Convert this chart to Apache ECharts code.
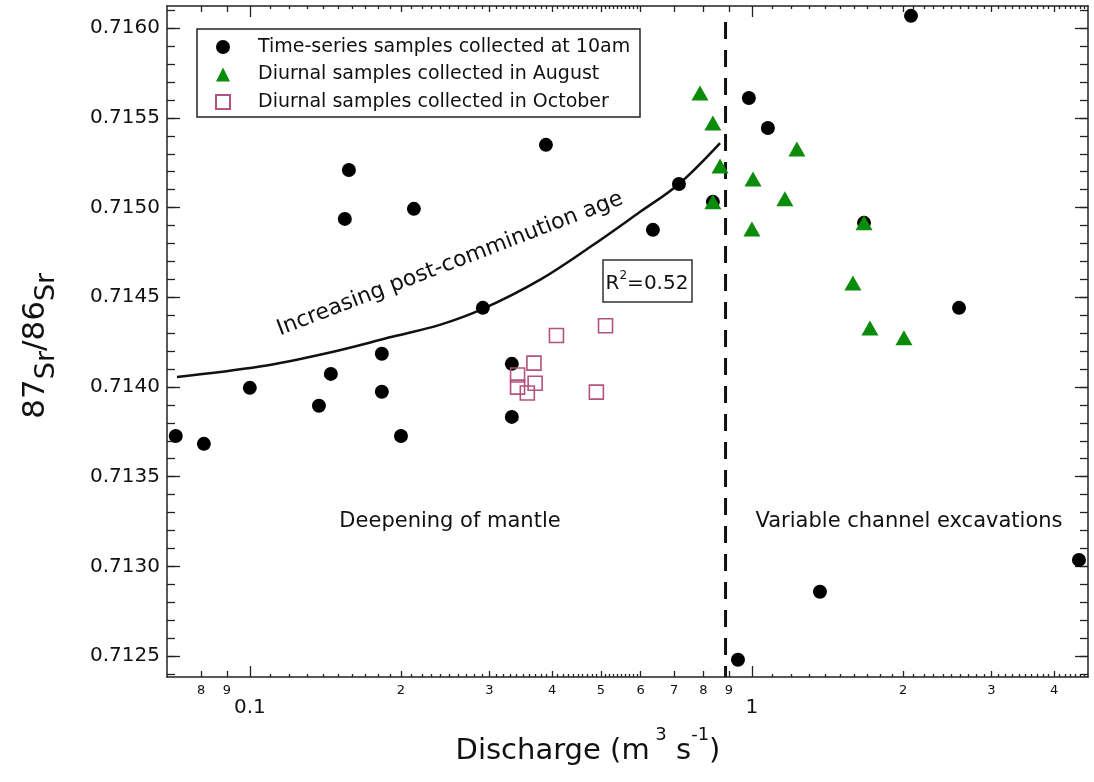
<!DOCTYPE html>
<html>
<head>
<meta charset="utf-8">
<script src="https://cdn.jsdelivr.net/npm/echarts@6/dist/echarts.min.js"></script>
<style>
  html, body { margin: 0; padding: 0; background: #fff; }
  #chart { width: 1094px; height: 782px; }
</style>
</head>
<body>
<div id="chart"></div>
<script>
// discharge (m3 s-1) against 87Sr/86Sr
const timeSeriesQ = [0.0712, 0.0810, 0.100, 0.1373, 0.1450, 0.1546, 0.1575, 0.1832, 0.1832, 0.200, 0.2122, 0.2911, 0.3325,
  0.3325, 0.3888, 0.635, 0.7155, 0.836, 0.986, 1.076, 1.672, 2.074, 2.585, 1.366, 0.938, 4.48]
const timeSeriesSr = [0.713727, 0.713683, 0.713995, 0.713895, 0.714073, 0.714937, 0.715210, 0.714185, 0.713973, 0.713727,
  0.714993, 0.714441, 0.714129, 0.713833, 0.715350, 0.714876, 0.715132, 0.715032, 0.715611, 0.715444, 0.714915, 0.716069,
  0.714441, 0.712858, 0.712479, 0.713036]

const augustQ = [0.788, 0.836, 0.864, 0.836, 1.005, 1.229, 1.163, 1.000, 1.672, 1.589, 1.718, 2.008]
const augustSr = [0.715639, 0.715472, 0.715232, 0.715032, 0.715160, 0.715327, 0.715049, 0.714881, 0.714915, 0.714580,
  0.714329, 0.714274]

const octoberQ = [0.408, 0.511, 0.368, 0.3414, 0.3414, 0.370, 0.357, 0.490]
const octoberSr = [0.714287, 0.714341, 0.714133, 0.714067, 0.713999, 0.714021, 0.713966, 0.713971]

// fitted curve
const fitQ = [0.0716, 0.1047, 0.1422, 0.193, 0.239, 0.291, 0.378, 0.476, 0.598, 0.7155, 0.864]
const fitSr = [0.714056, 0.714114, 0.714188, 0.714281, 0.714346, 0.714435, 0.714597, 0.714780, 0.714975, 0.715132, 0.715360]

const thresholdQ = [0.886, 0.886]
const thresholdSr = [0.716035, 0.712383]

const seriesNames = ['Time-series samples collected at 10am', 'Diurnal samples collected in August', 'Diurnal samples collected in October']

// axis ticks and labels
const xMajorTicks = [0.1, 1]
const xMajorLabels = ['0.1', '1']
const xMidTicks = [0.08, 0.09, 0.2, 0.3, 0.4, 0.5, 0.6, 0.7, 0.8, 0.9, 2, 3, 4]
const xMidLabels = ['8', '9', '2', '3', '4', '5', '6', '7', '8', '9', '2', '3', '4']
const xSmallTicks = []
for (let k = 11; k < 60; k++) if (k % 10) xSmallTicks.push(k / 100)
for (let k = 11; k < 47; k++) if (k % 10) xSmallTicks.push(k / 10)
const yMajorTicks = [0.7125, 0.7130, 0.7135, 0.7140, 0.7145, 0.7150, 0.7155, 0.7160]
const yMinorTicks = []
for (let k = 7124; k <= 7161; k++) yMinorTicks.push(k / 10000)

const X_MIN = 0.0684, X_MAX = 4.67
const Y_MIN = 0.712383, Y_MAX = 0.716124

const zip = (a, b) => a.map((v, i) => [v, b[i]])
const font = 'DejaVu Sans'
const ink = '#111'
const frame = '#222'

function xAxisOf(position, ticks, len, labels, extra) {
  return Object.assign({
    type: 'log', position, min: X_MIN, max: X_MAX, gridIndex: 0,
    axisLine: { show: false },
    splitLine: { show: false },
    minorTick: { show: false },
    axisTick: { show: true, inside: true, length: len, customValues: ticks, lineStyle: { color: frame, width: 1.3 } },
    axisLabel: labels ? labels : { show: false }
  }, extra || {})
}

function yAxisOf(position, ticks, len, labels, extra) {
  return Object.assign({
    type: 'value', position, min: Y_MIN, max: Y_MAX, gridIndex: 0,
    axisLine: { show: false },
    splitLine: { show: false },
    axisTick: { show: true, inside: true, length: len, customValues: ticks, lineStyle: { color: frame, width: 1.3 } },
    axisLabel: labels ? labels : { show: false }
  }, extra || {})
}

const chart = echarts.init(document.getElementById('chart'))

chart.setOption({
  animation: false,
  backgroundColor: '#fff',
  textStyle: { fontFamily: font },
  grid: { left: 167, right: 6, top: 6, bottom: 105 },
  legend: {
    data: seriesNames,
    orient: 'vertical', left: 215, top: 37, padding: 0,
    itemWidth: 14, itemHeight: 14, itemGap: 7.5,
    selectedMode: false,
    textStyle: { fontFamily: font, fontSize: 19, color: ink, lineHeight: 20, padding: [0, 0, 0, 23] }
  },
  xAxis: [
    xAxisOf('bottom', xMajorTicks, 11, {
      show: true, customValues: xMajorTicks, margin: 21, fontSize: 20, color: ink, fontFamily: font,
      formatter: v => xMajorLabels[xMajorTicks.findIndex(t => Math.abs(t - v) < 1e-9)] || ''
    }, { axisLine: { show: true, lineStyle: { color: frame, width: 1.5 } } }),
    xAxisOf('bottom', xMidTicks, 6, {
      show: true, customValues: xMidTicks, margin: 7, fontSize: 13, color: ink, fontFamily: font,
      formatter: v => xMidLabels[xMidTicks.findIndex(t => Math.abs(t - v) < 1e-9)] || ''
    }),
    xAxisOf('bottom', xSmallTicks, 3),
    xAxisOf('top', xMajorTicks, 11, null, { axisLine: { show: true, lineStyle: { color: frame, width: 1.5 } } }),
    xAxisOf('top', xMidTicks, 6),
    xAxisOf('top', xSmallTicks, 3)
  ],
  yAxis: [
    yAxisOf('left', yMajorTicks, 13, {
      show: true, customValues: yMajorTicks, margin: 7, fontSize: 20, color: ink, fontFamily: font,
      formatter: v => v.toFixed(4)
    }, { axisLine: { show: true, lineStyle: { color: frame, width: 1.5 } } }),
    yAxisOf('left', yMinorTicks, 8),
    yAxisOf('right', yMajorTicks, 13, null, { axisLine: { show: true, lineStyle: { color: frame, width: 1.5 } } }),
    yAxisOf('right', yMinorTicks, 8)
  ],
  series: [
    {
      name: 'fit', type: 'line', data: zip(fitQ, fitSr), smooth: 0.35, showSymbol: false,
      lineStyle: { color: '#111', width: 2.5 }, silent: true, z: 1
    },
    {
      name: 'threshold', type: 'line', data: zip(thresholdQ, thresholdSr), showSymbol: false,
      lineStyle: { color: '#111', width: 3, type: [17, 11] }, silent: true, z: 1
    },
    {
      name: seriesNames[0], type: 'scatter', data: zip(timeSeriesQ, timeSeriesSr),
      symbol: 'circle', symbolSize: 14, itemStyle: { color: '#000', opacity: 1 }, z: 2
    },
    {
      name: seriesNames[1], type: 'scatter', data: zip(augustQ, augustSr),
      symbol: 'triangle', symbolSize: [17, 15], itemStyle: { color: '#0a8c0a', opacity: 1 }, z: 3
    },
    {
      name: seriesNames[2], type: 'scatter', data: zip(octoberQ, octoberSr),
      symbol: 'rect', symbolSize: 14,
      itemStyle: { color: 'rgba(255,255,255,0)', borderColor: '#b3527d', borderWidth: 1.6, opacity: 1 }, z: 4
    }
  ],
  graphic: [
    { type: 'rect', shape: { x: 197, y: 29, width: 443, height: 88 }, style: { fill: 'none', stroke: frame, lineWidth: 1.5 }, z: 10 },
    { type: 'rect', shape: { x: 603, y: 260, width: 89, height: 42 }, style: { fill: '#fff', stroke: '#333', lineWidth: 1.5 }, z: 10 },
    {
      type: 'text', x: 647, y: 282, z: 11,
      style: {
        text: '{b|R}{s|2}{b|=0.52}', align: 'center', verticalAlign: 'middle',
        rich: {
          b: { fontSize: 20, fontFamily: font, fill: ink, verticalAlign: 'bottom', lineHeight: 24 },
          s: { fontSize: 12, fontFamily: font, fill: ink, verticalAlign: 'top', lineHeight: 12 }
        }
      }
    },
    {
      type: 'text', x: 450, y: 264, rotation: 21 * Math.PI / 180, z: 11,
      style: { text: 'Increasing post-comminution age', fontSize: 22, fontFamily: font, fill: ink, align: 'center', verticalAlign: 'middle' }
    },
    {
      type: 'text', x: 450, y: 522, z: 11,
      style: { text: 'Deepening of mantle', fontSize: 21, fontFamily: font, fill: ink, align: 'center', verticalAlign: 'middle' }
    },
    {
      type: 'text', x: 909, y: 522, z: 11,
      style: { text: 'Variable channel excavations', fontSize: 21, fontFamily: font, fill: ink, align: 'center', verticalAlign: 'middle' }
    },
    {
      type: 'text', x: 588, y: 746, z: 11,
      style: {
        text: '{b|Discharge (m}{s| 3}{b| s}{s|-1}{b|)}', align: 'center', verticalAlign: 'middle',
        rich: {
          b: { fontSize: 29, fontFamily: font, fill: ink, verticalAlign: 'bottom', lineHeight: 40 },
          s: { fontSize: 18, fontFamily: font, fill: ink, verticalAlign: 'top', lineHeight: 18 }
        }
      }
    },
    {
      type: 'text', x: 40, y: 346, rotation: Math.PI / 2, z: 11,
      style: {
        text: '{h| }{d|87}{s|Sr}{d|/}{d|86}{s|Sr}', align: 'center', verticalAlign: 'middle',
        rich: {
          h: { fontSize: 2, lineHeight: 40 },
          d: { fontSize: 31, fontFamily: font, fill: ink, verticalAlign: 'top', lineHeight: 28 },
          s: { fontSize: 27, fontFamily: font, fill: ink, verticalAlign: 'bottom', lineHeight: 24 }
        }
      }
    }
  ]
})
</script>
</body>
</html>
